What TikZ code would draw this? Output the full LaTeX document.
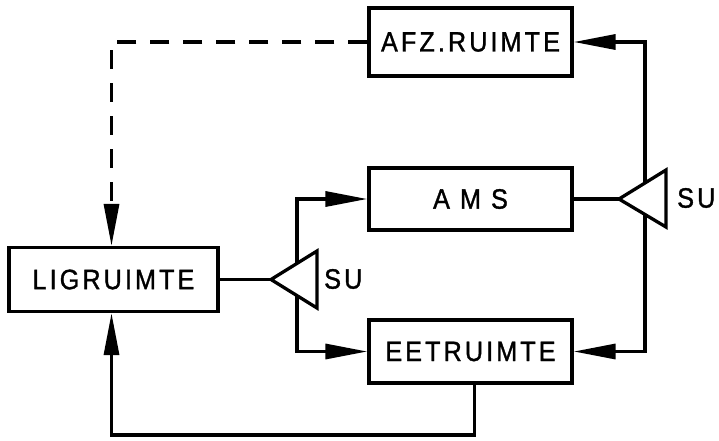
\documentclass[tikz,border=0pt]{standalone}
\usepackage{fontspec}
\setmainfont{Liberation Sans}
\newfontfamily\lblfont[LetterSpace=11,FakeStretch=0.9,FakeBold=1.2]{Liberation Sans}
\usetikzlibrary{arrows.meta,calc}

\begin{document}
\begin{tikzpicture}[x=1pt,y=-1pt,
  lbl/.style={font=\lblfont\fontsize{28}{33}\selectfont},
  box/.style={lbl,draw,line width=3.3pt,rectangle,inner sep=0pt,minimum width=203pt},
  wire/.style={line width=3.3pt},
  arr/.style={wire,-{Triangle[length=42pt,width=15pt]}},
  ampl/.style={line width=3.3pt,line join=miter},
  sulbl/.style={lbl,anchor=west,inner sep=0pt}]
  \useasboundingbox (0,0) rectangle (719,440);

  % blocks
  \node[box,minimum height=68pt] (afz) at (470.5,42) {AFZ.RUIMTE};
  \node[box,minimum height=62pt] (ams) at (470.5,199) {A M S};
  \node[box,minimum height=63pt] (eet) at (470.5,351.5) {EETRUIMTE};
  \node[box,minimum width=209pt,minimum height=64pt] (lig) at (113.5,279.5) {LIGRUIMTE};

  % amplifier triangles
  \coordinate (t1tip) at (271,279.5);
  \coordinate (t1top) at (317,251);
  \coordinate (t1bot) at (317,308);
  \draw[ampl] (t1tip) -- (t1top) -- (t1bot) -- cycle;
  \node[sulbl] (su1) at (324,279) {SU};

  \coordinate (t2tip) at (619,199);
  \coordinate (t2top) at (666,170);
  \coordinate (t2bot) at (666,227);
  \draw[ampl] (t2tip) -- (t2top) -- (t2bot) -- cycle;
  \node[sulbl] (su2) at (677,198) {SU};

  % branch points on the triangle edges
  \coordinate (b1up) at ($(t1tip)!0.565!(t1top)$);
  \coordinate (b1dn) at ($(t1tip)!0.565!(t1bot)$);
  \coordinate (b2up) at ($(t2tip)!0.553!(t2top)$);
  \coordinate (b2dn) at ($(t2tip)!0.553!(t2bot)$);

  % connections
  \draw[wire] (lig.east) -- (t1tip);
  \draw[arr] (b1up) |- (ams.west);
  \draw[arr] (b1dn) |- (eet.west);
  \draw[wire] (ams.east) -- (t2tip);
  \draw[arr] (b2up) |- (afz.east);
  \draw[arr] (b2dn) |- (eet.east);

  \coordinate (loopy) at (0,435);
  \draw[arr] ([xshift=4pt]eet.south) -- ([xshift=4pt]eet.south |- loopy)
    -| ([xshift=-2pt]lig.south);
  \draw[arr,dash pattern=on 19pt off 14pt] (afz.west) -| ([xshift=-2pt]lig.north);
\end{tikzpicture}
\end{document}
